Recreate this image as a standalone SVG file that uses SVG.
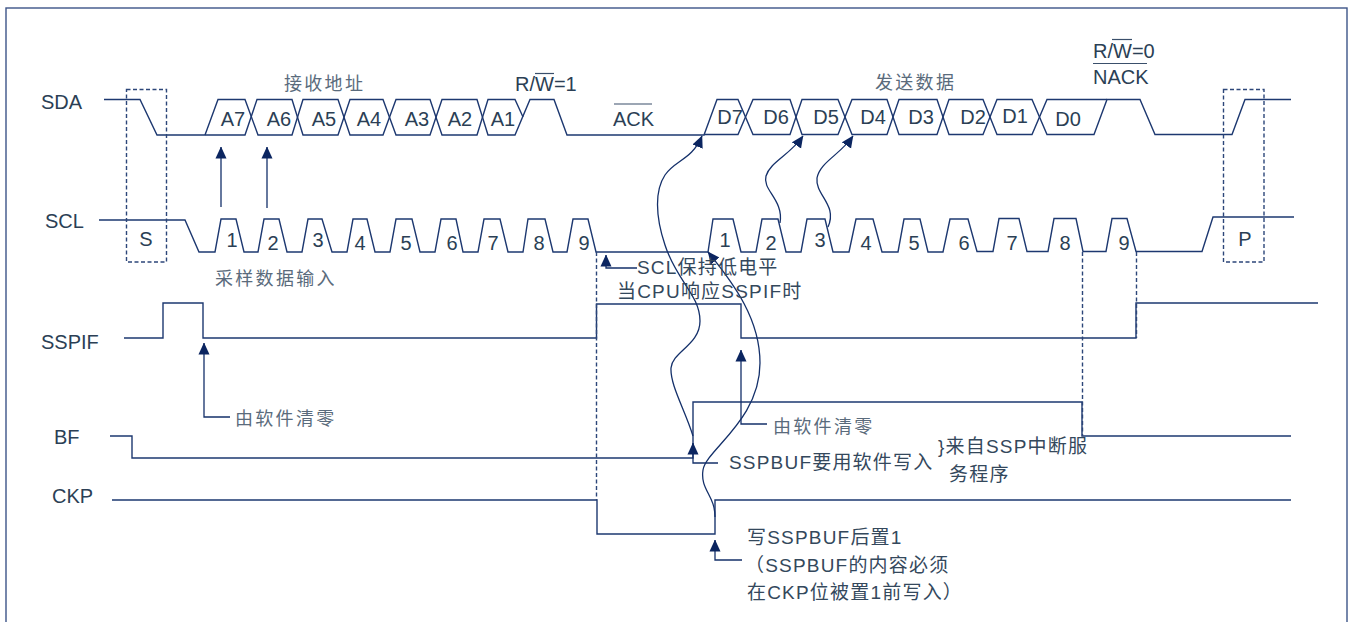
<svg xmlns="http://www.w3.org/2000/svg" width="1353" height="622" viewBox="0 0 1353 622">
<style>
text{font-family:"Liberation Sans","Noto Sans CJK SC",sans-serif;font-size:20px;fill:#2b3f55}
.m{text-anchor:middle}
.c{font-size:18px;fill:#5a6b7c;letter-spacing:2.3px}
.n{font-size:19px;fill:#34485c;letter-spacing:1.2px}
path,line,rect{fill:none;stroke:#1d3870;stroke-width:1.4}
.d{stroke-dasharray:4 2.500;stroke-width:1.4;stroke:#2c4679}
.a{stroke:#14306a;stroke-width:1.3}
.o{stroke:#3a4f6b;stroke-width:1.2}
.h{fill:#0b2560;stroke:none}
</style>
<defs>
<marker id="arr" markerUnits="userSpaceOnUse" markerWidth="12" markerHeight="12" refX="11.5" refY="6" orient="auto"><path class="h" d="M0,0.5L12,6L0,11.5Z"/></marker>
</defs>
<rect id="frame" x="6" y="8" width="1341" height="630" style="stroke:#3d5488"/>
<g id="sda">
<text x="41" y="109">SDA</text>
<path d="M104,99.5H140L157,135H245L257,99.5H292L303,135H338L350,99.5H383L396,135H430L442,99.5H477L488,135H515L530,99.5H554L567,135H704L717,99.5H738L753,134.5H790L802,99.5H838L852,134.5H887L899,99.5H937L949,134.5H983L997,99.5H1032L1047,134.5H1094L1107,99.5H1140L1155,134.5H1232L1245,99.5H1291"/>
<path d="M205,135L218,99.5H245L258,135H292L303,99.5H338L350,135H383L396,99.5H430L442,135H477L488,99.5H515L523,117"/>
<path d="M704,134.5H738L753,99.5H790L802,134.5H838L852,99.5H887L899,134.5H937L949,99.5H983L997,134.5H1032L1047,99.5H1107"/>
<text class="m" x="233" y="126">A7</text><text class="m" x="279" y="126">A6</text><text class="m" x="324" y="126">A5</text><text class="m" x="369" y="126">A4</text><text class="m" x="417" y="126">A3</text><text class="m" x="460" y="126">A2</text><text class="m" x="503" y="126">A1</text>
<text class="m" x="730" y="124">D7</text><text class="m" x="776" y="124">D6</text><text class="m" x="826" y="124">D5</text><text class="m" x="873" y="124">D4</text><text class="m" x="921" y="124">D3</text><text class="m" x="973" y="124">D2</text><text class="m" x="1015" y="123">D1</text><text class="m" x="1068" y="126">D0</text>
<text class="c" x="284" y="90">接收地址</text>
<text class="c" x="875" y="89">发送数据</text>
<text x="515" y="91">R/W=1</text><line class="o" x1="535" y1="73.500" x2="554" y2="73.500"/>
<text x="613" y="126">ACK</text><line class="o" x1="614" y1="104" x2="652" y2="104"/>
<text x="1093" y="58">R/W=0</text><line class="o" x1="1112" y1="39.500" x2="1132" y2="39.500"/>
<text x="1093" y="84">NACK</text><line class="o" x1="1093" y1="63.500" x2="1147" y2="63.500"/>
</g>
<g id="scl">
<text x="45" y="228">SCL</text>
<path d="M99,220H185L199,252H215L221,219H236L244,252H258L264,219H279L287,252H302L308,219H322L332,252H347L353,219H367L375,252H390L396,219H412L420,252H435L441,219H456L463,252H478L484,219H500L508,252H523L528,219H545L553,252H567L573,219H588L596,252H708L713,219H733L741,252H756L762,219H778L786,252H801L807,219H825L833,252H849L856,219H873L882,252H898L904,219H920L928,252H943L950,219H968L977,251.500H993L999,218.500H1019L1027,251.500H1048L1054,218.500H1076L1083,251.500H1106L1112,218.500H1127L1136,251.500H1202L1213,217H1294"/>
<text class="m" x="232" y="247">1</text><text class="m" x="273" y="250">2</text><text class="m" x="318" y="247">3</text><text class="m" x="360" y="250">4</text><text class="m" x="406" y="250">5</text><text class="m" x="452" y="250">6</text><text class="m" x="493" y="250">7</text><text class="m" x="539" y="250">8</text><text class="m" x="584" y="250">9</text>
<text class="m" x="725" y="247">1</text><text class="m" x="771" y="250">2</text><text class="m" x="820" y="247">3</text><text class="m" x="866" y="250">4</text><text class="m" x="914" y="250">5</text><text class="m" x="964" y="250">6</text><text class="m" x="1012" y="250">7</text><text class="m" x="1065" y="250">8</text><text class="m" x="1124" y="250">9</text>
<text class="c" x="215" y="285">采样数据输入</text>
</g>
<g id="start-box"><rect class="d" x="126.500" y="89.500" width="40" height="172.500"/><text class="m" x="146" y="246">S</text></g>
<g id="stop-box"><rect class="d" x="1223.500" y="89.500" width="40.500" height="172.500"/><text class="m" x="1245" y="246">P</text></g>
<g id="sspif">
<text x="41" y="349">SSPIF</text>
<path d="M124,338H163V303H203V338H596.500V304H741V338H1136V303H1318"/>
</g>
<g id="bf">
<text x="54" y="444">BF</text>
<path d="M110,436H132V458H693V402H1082V436H1291"/>
</g>
<g id="ckp">
<text x="52" y="503">CKP</text>
<path d="M112,500H597V534H715V500H1291"/>
</g>
<g id="connectors">
<line class="d" x1="596.500" y1="252" x2="596.500" y2="500"/>
<line class="d" x1="1082.500" y1="252" x2="1082.500" y2="436"/>
<line class="d" x1="1136.500" y1="252" x2="1136.500" y2="338"/>
<path class="a" marker-end="url(#arr)" d="M221,207V147"/>
<path class="a" marker-end="url(#arr)" d="M267,208V147"/>
<path class="a" marker-end="url(#arr)" d="M637,268H606V255"/>
<path class="a" marker-end="url(#arr)" d="M230,417H204V343"/>
<path class="a" marker-end="url(#arr)" d="M767,424H741V350"/>
<path class="a" marker-end="url(#arr)" d="M718,463H693V443"/>
<path class="a" marker-end="url(#arr)" d="M742,560H715V540"/>
<path class="a" marker-end="url(#arr)" d="M693,436C685,410 670,385 671,368C672,352 700,345 700,321C700,295 676,280 665,245C655,215 655,190 665,175C675,160 692,160 702,136"/>
<path class="a" marker-end="url(#arr)" d="M715,517C715,495 700,490 703,470C706,450 760,420 760,363C760,320 735,285 708,252"/>
<path class="a" marker-end="url(#arr)" d="M780,223C784,200 762,190 766,176C770,162 790,155 803,136"/>
<path class="a" marker-end="url(#arr)" d="M828,227C838,205 815,195 817,178C820,162 840,155 853,136"/>
</g>
<g id="notes">
<text class="n" x="637" y="274">SCL保持低电平</text>
<text class="n" x="617" y="298">当CPU响应SSPIF时</text>
<text class="c" x="235" y="425">由软件清零</text>
<text class="c" x="773" y="433">由软件清零</text>
<text class="n" x="729" y="469">SSPBUF要用软件写入</text>
<text class="n" x="938" y="453">}来自SSP中断服</text>
<text class="n" x="949" y="481">务程序</text>
<text class="n" x="747" y="544">写SSPBUF后置1</text>
<text class="n" x="745" y="572">（SSPBUF的内容必须</text>
<text class="n" x="747" y="599">在CKP位被置1前写入）</text>
</g>
</svg>
